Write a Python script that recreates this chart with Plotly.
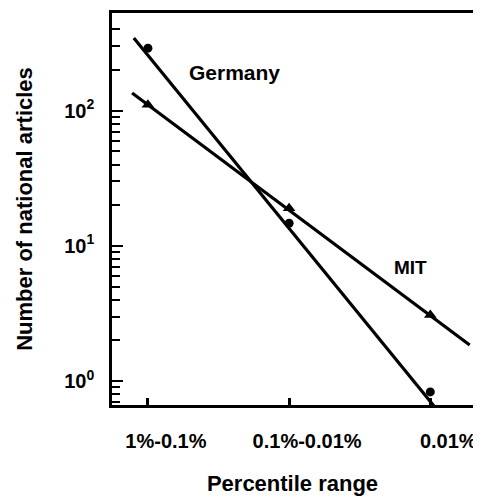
import numpy as np
import plotly.graph_objects as go

# ---- data ----
categories = ["1%-0.1%", "0.1%-0.01%", "0.01%"]
cat_pos = [1, 2, 3]
germany_vals = [291, 14.7, 0.83]
mit_vals = [111, 19.0, 3.08]

# power-law fit lines (log10 y = a + b*(x-1)) as drawn in the picture
germany_fit = {"a": 2.41, "b": -1.281, "x0": 0.90, "x1": 3.10}
mit_fit = {"a": 2.044, "b": -0.780, "x0": 0.888, "x1": 3.279}

y_major = [1, 10, 100]
y_major_text = ["10<sup>0</sup>", "10<sup>1</sup>", "10<sup>2</sup>"]
y_minor = [0.7, 0.8, 0.9, 2, 3, 4, 5, 6, 7, 8, 9, 20, 30, 40, 50, 60, 70, 80, 90, 200, 300, 400]

FONT = "Liberation Sans, Arial, sans-serif"


def fit_line(f):
    xs = np.linspace(f["x0"], f["x1"], 50)
    ys = 10 ** (f["a"] + f["b"] * (xs - 1))
    return xs, ys


fig = go.Figure()
for f in (germany_fit, mit_fit):
    xs, ys = fit_line(f)
    fig.add_trace(go.Scatter(x=xs, y=ys, mode="lines",
                             line=dict(color="black", width=3.2),
                             showlegend=False, hoverinfo="skip"))

fig.add_trace(go.Scatter(x=cat_pos, y=germany_vals, mode="markers", name="Germany",
                         marker=dict(symbol="circle", size=9, color="black"),
                         showlegend=False))
fig.add_trace(go.Scatter(x=cat_pos, y=mit_vals, mode="markers", name="MIT",
                         marker=dict(symbol="triangle-up", size=11, color="black"),
                         showlegend=False))

fig.add_annotation(x=1.611, y=2.281, xref="x", yref="y", text="Germany",
                   showarrow=False, font=dict(family=FONT, size=21, color="black", weight="bold"))
fig.add_annotation(x=2.862, y=0.837, xref="x", yref="y", text="MIT",
                   showarrow=False, font=dict(family=FONT, size=19, color="black", weight="bold"))

# page body adds an 8px margin, so the figure is 8px smaller than the window
fig.update_layout(
    width=473, height=495,
    margin=dict(l=103.5, r=7.7, t=5.3, b=98, autoexpand=False),
    paper_bgcolor="white", plot_bgcolor="white",
    font=dict(family=FONT, color="black"),
)

fig.update_xaxes(
    automargin=False,
    range=[0.7456, 3.3025],
    tickvals=cat_pos, ticktext=categories,
    ticks="inside", ticklen=7, tickwidth=2.5, tickcolor="black",
    ticklabelshift=18, ticklabelstandoff=16,
    tickfont=dict(family=FONT, size=20, color="black", weight="bold"),
    showline=True, linewidth=2.5, linecolor="black", mirror=True,
    showgrid=False, zeroline=False,
    title=dict(text="Percentile range", standoff=25,
               font=dict(family=FONT, size=22, color="black", weight="bold")),
)

fig.update_yaxes(
    automargin=False,
    type="log",
    range=[-0.178, 2.724],
    tickvals=y_major, ticktext=y_major_text,
    ticks="inside", ticklen=11, tickwidth=2, tickcolor="black",
    ticklabelstandoff=11,
    tickfont=dict(family=FONT, size=20, color="black", weight="bold"),
    minor=dict(tickvals=y_minor, ticks="inside", ticklen=8, tickwidth=2, tickcolor="black"),
    showline=True, linewidth=2.5, linecolor="black", mirror=True,
    showgrid=False, zeroline=False,
    title=dict(text="Number of national articles", standoff=26,
               font=dict(family=FONT, size=22, color="black", weight="bold")),
)

fig.write_html("out.html")
